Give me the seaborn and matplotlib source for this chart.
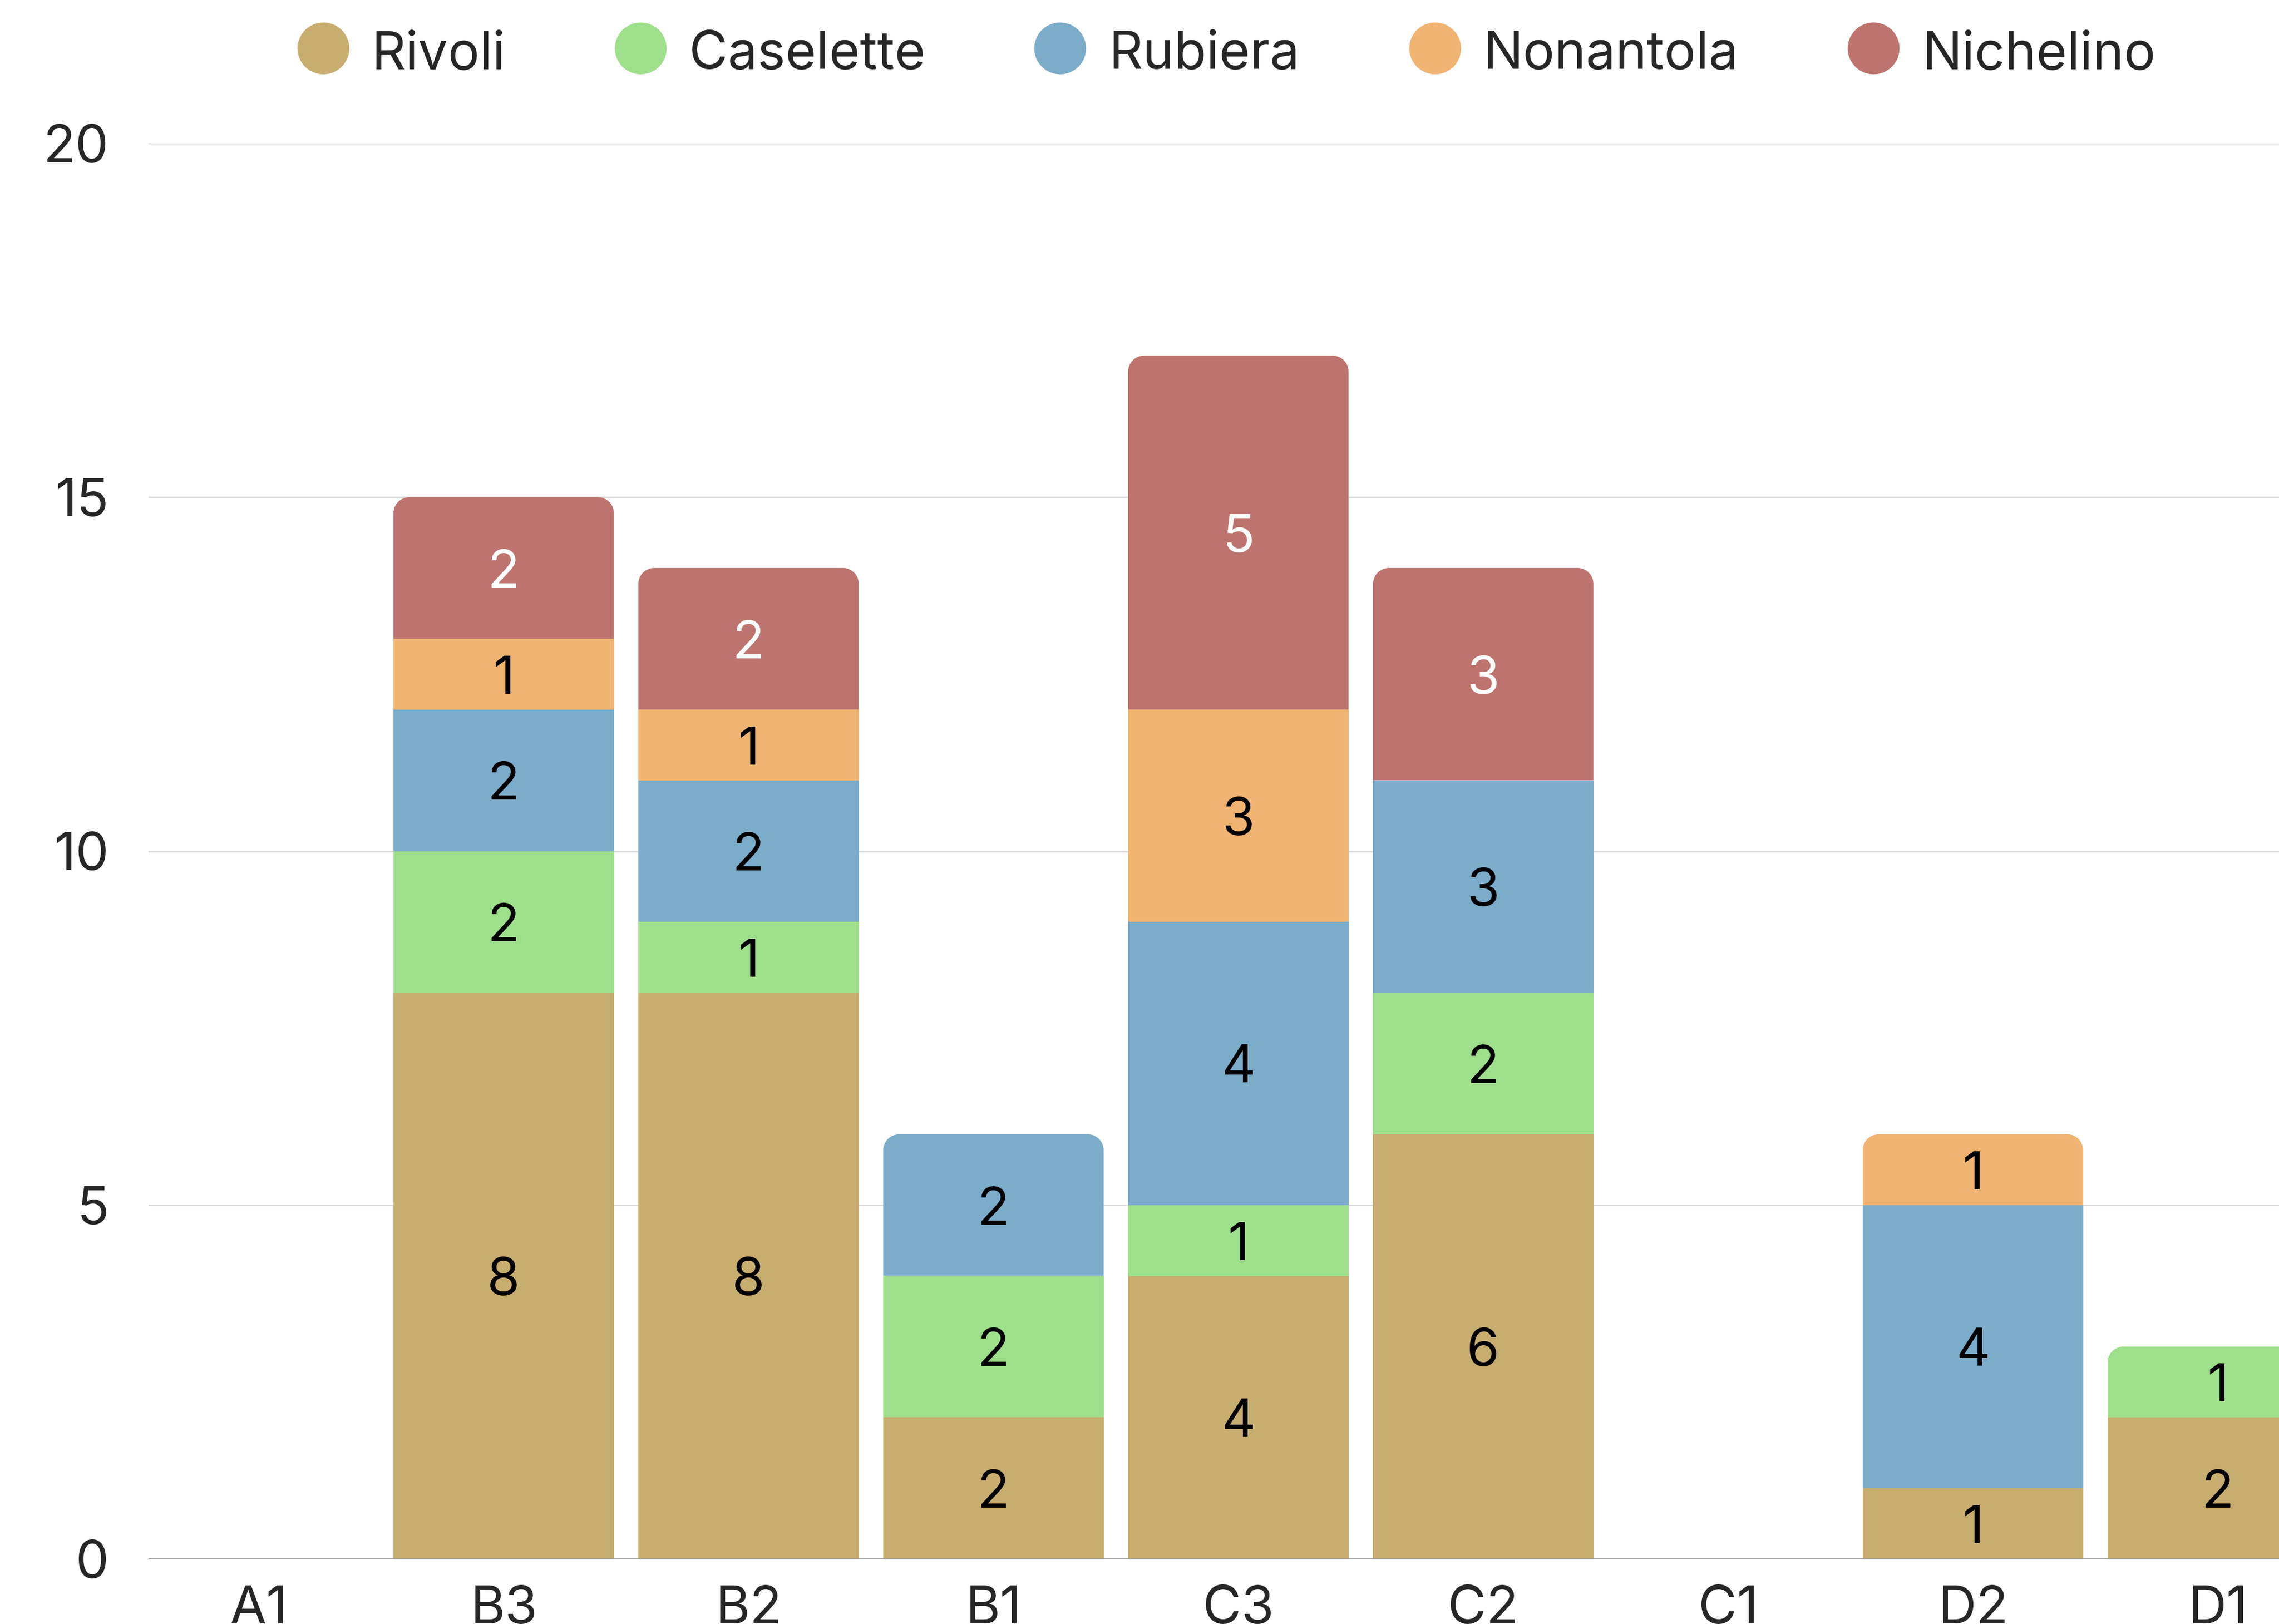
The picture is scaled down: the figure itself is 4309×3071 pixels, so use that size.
import numpy as np
import matplotlib
matplotlib.use("Agg")
import matplotlib.pyplot as plt
from matplotlib.path import Path
from matplotlib.patches import PathPatch
from matplotlib.lines import Line2D
import seaborn as sns

# Stacked counts per site and city
categories = ["A1", "B3", "B2", "B1", "C3", "C2", "C1", "D2", "D1"]
series_names = ["Rivoli", "Caselette", "Rubiera", "Nonantola", "Nichelino"]
rivoli = [0, 8, 8, 2, 4, 6, 0, 1, 2]
caselette = [0, 2, 1, 2, 1, 2, 0, 0, 1]
rubiera = [0, 2, 2, 2, 4, 3, 0, 4, 0]
nonantola = [0, 1, 1, 0, 3, 0, 0, 1, 0]
nichelino = [0, 2, 2, 0, 5, 3, 0, 0, 0]
y_ticks = [0, 5, 10, 15, 20]

series_values = [rivoli, caselette, rubiera, nonantola, nichelino]
colors = ["#C8AD70", "#9EDF8B", "#7BACC9", "#F0B472", "#BE746E"]
label_colors = ["#000000", "#000000", "#000000", "#000000", "#FFFFFF"]

sns.set_theme(style="white")
plt.rcParams["font.family"] = ["Inter", "DejaVu Sans"]

W, H, DPI = 4309, 3071, 300
fig = plt.figure(figsize=(W / DPI, H / DPI), dpi=DPI)

# axes geometry in pixels
ax_left_px, ax_bottom_px, ax_top_px = 281, 2948, 271
pitch_px = 463.0
x_lo, x_hi = -0.45, 8.45
ax_w_px = (x_hi - x_lo) * pitch_px
ax = fig.add_axes([ax_left_px / W, (H - ax_bottom_px) / H,
                   ax_w_px / W, (ax_bottom_px - ax_top_px) / H])

bottom = np.zeros(len(categories))
series_patches = []
for vals, col in zip(series_values, colors):
    n_before = len(ax.patches)
    sns.barplot(x=categories, y=vals, order=categories, color=col,
                width=0.9, bottom=bottom.copy(), saturation=1,
                errorbar=None, linewidth=0, ax=ax)
    series_patches.append(list(ax.patches[n_before:]))
    bottom += np.asarray(vals, dtype=float)

ax.set_xlim(x_lo, x_hi)
ax.set_ylim(0, 20)

# round the top corners of each stack
px_per_y = (ax_bottom_px - ax_top_px) / 20.0
radius_px = 30.0
rx = radius_px / pitch_px
ry = radius_px / px_per_y
k = 0.5523


def rounded_top_path(x0, y0, w, h):
    x1, y1 = x0 + w, y0 + h
    r_y = min(ry, h)
    verts = [
        (x0, y0),
        (x0, y1 - r_y),
        (x0, y1 - r_y + k * r_y), (x0 + rx - k * rx, y1), (x0 + rx, y1),
        (x1 - rx, y1),
        (x1 - rx + k * rx, y1), (x1, y1 - r_y + k * r_y), (x1, y1 - r_y),
        (x1, y0),
        (x0, y0),
    ]
    codes = [Path.MOVETO, Path.LINETO,
             Path.CURVE4, Path.CURVE4, Path.CURVE4,
             Path.LINETO,
             Path.CURVE4, Path.CURVE4, Path.CURVE4,
             Path.LINETO, Path.CLOSEPOLY]
    return Path(verts, codes)


for i in range(len(categories)):
    top = None
    for s in range(len(series_values)):
        if series_values[s][i] > 0:
            top = s
    if top is None:
        continue
    rect = series_patches[top][i]
    x0, y0 = rect.get_x(), rect.get_y()
    w, h = rect.get_width(), rect.get_height()
    fc = rect.get_facecolor()
    rect.set_visible(False)
    ax.add_patch(PathPatch(rounded_top_path(x0, y0, w, h), facecolor=fc,
                           edgecolor="none", linewidth=0, zorder=rect.get_zorder()))

# value labels inside segments
cum = np.zeros(len(categories))
for vals, lc in zip(series_values, label_colors):
    for i, v in enumerate(vals):
        if v > 0:
            ax.annotate(f"{v}", xy=(i, cum[i] + v / 2.0), xytext=(0, -2.6),
                        textcoords="offset points", ha="center", va="center",
                        fontsize=24, color=lc, zorder=5)
    cum += np.asarray(vals, dtype=float)

# axes styling
ax.set_yticks(y_ticks)
ax.yaxis.grid(True, color="#DCDCDC", linewidth=0.7)
ax.xaxis.grid(False)
ax.set_axisbelow(True)
ax.axhline(0, color="#A0A0A0", linewidth=0.8, zorder=1)
for sp in ax.spines.values():
    sp.set_visible(False)
ax.tick_params(axis="both", length=0, labelsize=24, labelcolor="#262626")
ax.tick_params(axis="y", pad=18)
ax.tick_params(axis="x", pad=12)
ax.set_xlabel("")
ax.set_ylabel("")

# legend
handles = [Line2D([], [], marker="o", linestyle="", markersize=23.5,
                  markerfacecolor=c, markeredgewidth=0) for c in colors]
leg = fig.legend(handles, series_names, loc="center",
                 bbox_to_anchor=(0.538, 1 - 101 / H), ncol=5, frameon=False,
                 fontsize=24, handlelength=1.0, handletextpad=0.42,
                 columnspacing=2.05, handleheight=1.0, borderaxespad=0)
for t in leg.get_texts():
    t.set_color("#262626")

fig.savefig("out.png", dpi=DPI)
